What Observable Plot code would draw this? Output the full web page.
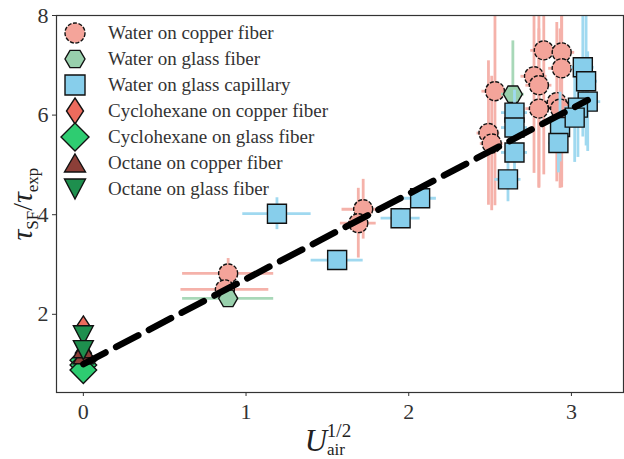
<!DOCTYPE html>
<html><head><meta charset="utf-8">
<script src="https://cdn.jsdelivr.net/npm/d3@7"></script>
<script src="https://cdn.jsdelivr.net/npm/@observablehq/plot@0.6"></script>
<style>
html,body{margin:0;padding:0;background:#fff;}
#wrap{position:relative;width:624px;height:459px;overflow:hidden;}
</style></head><body><div id="wrap"></div>
<script>
// ---------- data ----------
const waterCopperX    = [0.89, 0.87, 1.72, 1.69, 2.53, 2.49, 2.51, 2.83, 2.94, 2.94, 2.77, 2.80, 2.80, 2.91, 2.93];
const waterCopperY    = [2.82, 2.50, 4.11, 3.83, 6.48, 5.64, 5.43, 7.30, 7.26, 6.94, 6.78, 6.60, 6.13, 6.26, 6.13];
const waterCopperXErr = [0.28, 0.27, 0.13, 0.11, 0.08, 0.07, 0.07, 0.08, 0.08, 0.08, 0.08, 0.08, 0.08, 0.08, 0.08];
const waterCopperYErr = [0.30, 0.20, 0.60, 0.70, 2.30, 1.45, 1.35, 2.50, 2.60, 2.40, 1.95, 2.05, 1.60, 1.60, 1.60];

const waterGlassX    = [0.89, 2.64];
const waterGlassY    = [2.32, 6.42];
const waterGlassXErr = [0.28, 0.07];
const waterGlassYErr = [0.08, 1.07];

const capillaryX    = [1.19, 1.56, 1.95, 2.07, 2.65, 2.65, 2.65, 2.61, 2.93, 2.92, 3.07, 3.09, 3.10, 3.04, 3.02];
const capillaryY    = [4.02, 3.09, 3.93, 4.33, 6.05, 5.75, 5.25, 4.71, 5.76, 5.44, 6.96, 6.68, 6.27, 6.15, 5.95];
const capillaryXErr = [0.21, 0.16, 0.12, 0.10, 0.08, 0.08, 0.08, 0.08, 0.06, 0.06, 0.07, 0.07, 0.08, 0.08, 0.06];
const capillaryYErr = [0.32, 0.12, 0.20, 0.20, 0.45, 0.45, 0.40, 0.45, 0.70, 0.60, 1.40, 1.30, 1.00, 1.00, 0.90];

const cycloCopperX = [0, 0];
const cycloCopperY = [1.72, 1.22];
const cycloGlassX  = [0, 0, 0];
const cycloGlassY  = [1.08, 0.98, 0.88];
const octaneCopperX = [0, 0];
const octaneCopperY = [1.18, 1.30];
const octaneGlassX  = [0, 0];
const octaneGlassY  = [1.58, 1.28];

const fitX = [0, 3.1];
const fitY = [1.0, 6.3];

const xTicks = [0, 1, 2, 3];
const yTicks = [2, 4, 6, 8];

const seriesNames = [
  "Water on copper fiber", "Water on glass fiber", "Water on glass capillary",
  "Cyclohexane on copper fiber", "Cyclohexane on glass fiber",
  "Octane on copper fiber", "Octane on glass fiber"
];

const SERIF = "'Liberation Serif', 'DejaVu Serif', serif";

// ---------- symbols ----------
function sym(fn){return {draw(ctx,size){const r=Math.sqrt(size/Math.PI); fn(ctx,r);}};}
const circleS = sym((c,r)=>{c.moveTo(r,0);c.arc(0,0,r,0,2*Math.PI);c.closePath();});
const hexS = sym((c,r)=>{for(let i=0;i<6;i++){const a=i*Math.PI/3;const px=r*Math.cos(a),py=r*Math.sin(a);if(i)c.lineTo(px,py);else c.moveTo(px,py);}c.closePath();});
const squareS = sym((c,r)=>{c.moveTo(-r,-r);c.lineTo(r,-r);c.lineTo(r,r);c.lineTo(-r,r);c.closePath();});
const thinDiamondS = sym((c,r)=>{c.moveTo(0,-1.3*r);c.lineTo(0.85*r,0);c.lineTo(0,1.3*r);c.lineTo(-0.85*r,0);c.closePath();});
const bigDiamondS = sym((c,r)=>{c.moveTo(0,-1.4*r);c.lineTo(1.4*r,0);c.lineTo(0,1.4*r);c.lineTo(-1.4*r,0);c.closePath();});
const triUpS = sym((c,r)=>{c.moveTo(0,-0.9*r);c.lineTo(1.05*r,0.9*r);c.lineTo(-1.05*r,0.9*r);c.closePath();});
const triDownS = sym((c,r)=>{c.moveTo(0,1.0*r);c.lineTo(1.05*r,-1.0*r);c.lineTo(-1.05*r,-1.0*r);c.closePath();});

const colors = ["#f4a49a", "#98d0ac", "#87ceeb", "#ec6b5d", "#2ecc71", "#8c3f38", "#1e8f4e"];
const errColors = ["#f5b2aa", "#a8d8b8", "#a0d9f0"];
const symbols = [circleS, hexS, squareS, thinDiamondS, bigDiamondS, triUpS, triDownS];

function table(xs, ys, xe, ye){return xs.map((x,i)=>({x, y: ys[i], xe: xe ? xe[i] : 0, ye: ye ? ye[i] : 0}));}
const sets = [
  table(waterCopperX, waterCopperY, waterCopperXErr, waterCopperYErr),
  table(waterGlassX, waterGlassY, waterGlassXErr, waterGlassYErr),
  table(capillaryX, capillaryY, capillaryXErr, capillaryYErr),
  table(cycloCopperX, cycloCopperY),
  table(cycloGlassX, cycloGlassY),
  table(octaneCopperX, octaneCopperY),
  table(octaneGlassX, octaneGlassY)
];
const fit = fitX.map((x,i)=>({x, y: fitY[i]}));

const marks = [];
sets.forEach((d, k) => {
  if (k < 3) {
    marks.push(Plot.ruleY(d, {y: "y", x1: v => v.x - v.xe, x2: v => v.x + v.xe, stroke: errColors[k], strokeWidth: 2.8, clip: true}));
    marks.push(Plot.ruleX(d, {x: "x", y1: v => v.y - v.ye, y2: v => v.y + v.ye, stroke: errColors[k], strokeWidth: 2.8, clip: true}));
  }
  marks.push(Plot.dot(d, {x: "x", y: "y", r: 9.5, symbol: symbols[k], fill: colors[k], fillOpacity: 1,
    stroke: "#111", strokeWidth: 1.4, strokeDasharray: k === 0 ? "4,1.6" : null}));
});
marks.push(Plot.line(fit, {x: "x", y: "y", stroke: "#000", strokeWidth: 6.5, strokeDasharray: "25,12"}));
marks.push(Plot.frame({stroke: "#333", strokeWidth: 1.2}));
marks.push(Plot.axisX({ticks: xTicks, tickSize: 4, tickPadding: 7, tickFormat: d => String(d), fontSize: 22, fontFamily: SERIF, label: null, stroke: "#333", fill: "#333"}));
marks.push(Plot.axisY({ticks: yTicks, tickSize: 4, tickPadding: 4, tickFormat: d => String(d), fontSize: 22, fontFamily: SERIF, label: null, stroke: "#333", fill: "#333"}));

const plot = Plot.plot({
  width: 624, height: 459,
  marginLeft: 56, marginRight: 1, marginTop: 15, marginBottom: 67,
  x: {domain: [-0.165, 3.32]},
  y: {domain: [0.43, 8]},
  style: {fontFamily: SERIF, background: "#fff", color: "#333"},
  marks
});
const wrap = document.getElementById("wrap");
wrap.appendChild(plot);

// axis labels (rich text)
const svg = d3.select(plot);
const xl = svg.append("text").style("font-family", SERIF).attr("fill", "#222");
xl.append("tspan").attr("x", 316).attr("y", 451).attr("font-size", 31).attr("font-style", "italic").text("U");
xl.append("tspan").attr("x", 339).attr("y", 437).attr("font-size", 19).text("1/2");
xl.append("tspan").attr("x", 336).attr("y", 455).attr("font-size", 17).text("air");

const yl = svg.append("text").style("font-family", SERIF).attr("fill", "#222")
  .attr("transform", "translate(32,204) rotate(-90)").attr("text-anchor", "middle");
yl.append("tspan").attr("font-size", 30).attr("font-style", "italic").text("τ");
yl.append("tspan").attr("font-size", 17).attr("dy", 6).text("SF");
yl.append("tspan").attr("font-size", 28).attr("dy", -6).text("/");
yl.append("tspan").attr("font-size", 30).attr("font-style", "italic").text("τ");
yl.append("tspan").attr("font-size", 17).attr("dy", 6).text("exp");

// legend
const legend = document.createElement("div");
legend.style.cssText = `position:absolute;left:0;top:0;font-family:${SERIF};font-size:19px;color:#333;`;
seriesNames.forEach((name, k) => {
  const row = document.createElement("div");
  row.style.cssText = `position:absolute;left:60px;top:${20 + k * 26}px;white-space:nowrap;height:26px;line-height:26px;`;
  const p = d3.path();
  symbols[k].draw(p, Math.PI * 100);
  row.innerHTML = `<svg width="30" height="30" viewBox="-15 -15 30 30" style="position:absolute;left:0;top:-2px"><path d="${p.toString()}" fill="${colors[k]}" stroke="#111" stroke-width="1.4" ${k===0?'stroke-dasharray="4,1.6"':''}/></svg>`;
  const span = document.createElement("span");
  span.style.cssText = `position:absolute;left:48px;top:0;`;
  span.textContent = name;
  row.appendChild(span);
  legend.appendChild(row);
});
wrap.appendChild(legend);
</script></body></html>
